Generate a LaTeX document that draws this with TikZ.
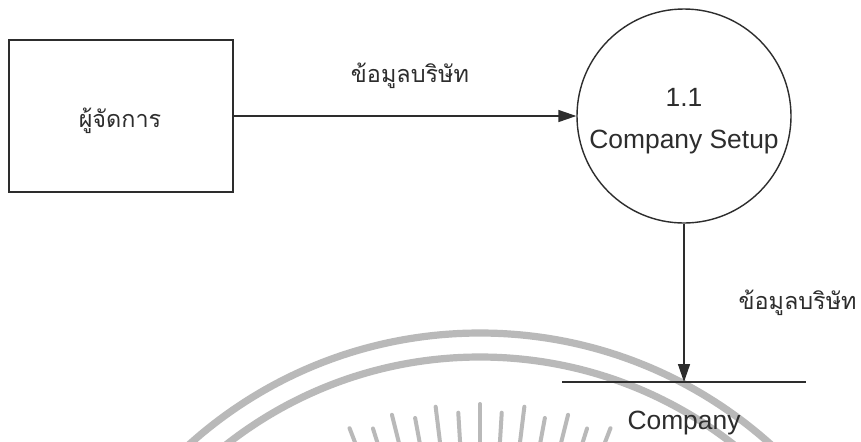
\documentclass[tikz,border=0pt]{standalone}
\usepackage{fontspec}
\setmainfont{Liberation Sans}
\newfontfamily\thaifont[Script=Thai]{Loma}
\usetikzlibrary{arrows.meta}
\definecolor{ink}{RGB}{45,45,45}
\definecolor{seal}{RGB}{185,185,185}
\tikzset{
  entity/.style={draw=ink, line width=0.9pt, minimum width=112pt, minimum height=76pt, inner sep=0pt},
  process/.style={draw=ink, line width=0.7pt, circle, minimum size=107pt, inner sep=0pt},
  flow/.style={draw=ink, line width=0.7pt, -{Triangle[length=9pt,width=6pt]}},
  storeline/.style={draw=ink, line width=0.7pt},
  lbl/.style={text=ink, font=\fontsize{13.2pt}{15pt}\selectfont, inner sep=0pt},
  thlbl/.style={text=ink, font=\thaifont\fontsize{11.7pt}{14pt}\selectfont, inner sep=0pt},
  sealband/.style={draw=seal, line width=3.6pt},
  sealray/.style={draw=seal, line width=2pt, line cap=round}
}
\begin{document}
\begin{tikzpicture}[x=0.5pt,y=-0.5pt]
  \useasboundingbox[fill=white] (0,0) rectangle (861,441);

  % faint seal in the background
  \begin{scope}
    \clip (0,0) rectangle (861,441);
    \coordinate (sealc) at (480,768);
    \draw[sealband] (sealc) circle[radius=217.5pt];
    \draw[sealband] (sealc) circle[radius=205.5pt];
    \foreach \k in {-7,...,7}{
      \pgfmathsetmacro{\ang}{90+3.5*\k}
      \pgfmathsetmacro{\rr}{mod(abs(\k),2)==0 ? 182 : 178}
      \draw[sealray] ([shift={(sealc)}]\ang:\rr pt) -- ([shift={(sealc)}]\ang:140pt);
    }
  \end{scope}

  % external entity
  \node[entity] (mgr) at (121,116) {};
  \node[thlbl] (mgrtxt) at (120,121) {ผู้จัดการ};

  % process
  \node[process] (proc) at (684,116) {};
  \node[lbl] (pnum) at (684,97) {1.1};
  \node[lbl] (pname) at (684,142) {Company Setup};

  % data store
  \coordinate (storeL) at (562,382);
  \coordinate (storeR) at (806,382);
  \coordinate (storeIn) at (684,382);
  \draw[storeline] (storeL) -- (storeR);
  \node[lbl] (storetxt) at (684,423) {Company};

  % data flows
  \draw[flow] (mgr.east) -- (proc.west);
  \node[thlbl] (f1) at (410,76) {ข้อมูลบริษัท};
  \draw[flow] (proc.south) -- (storeIn);
  \node[thlbl, anchor=east] (f2) at (857,303) {ข้อมูลบริษัท};
\end{tikzpicture}
\end{document}
